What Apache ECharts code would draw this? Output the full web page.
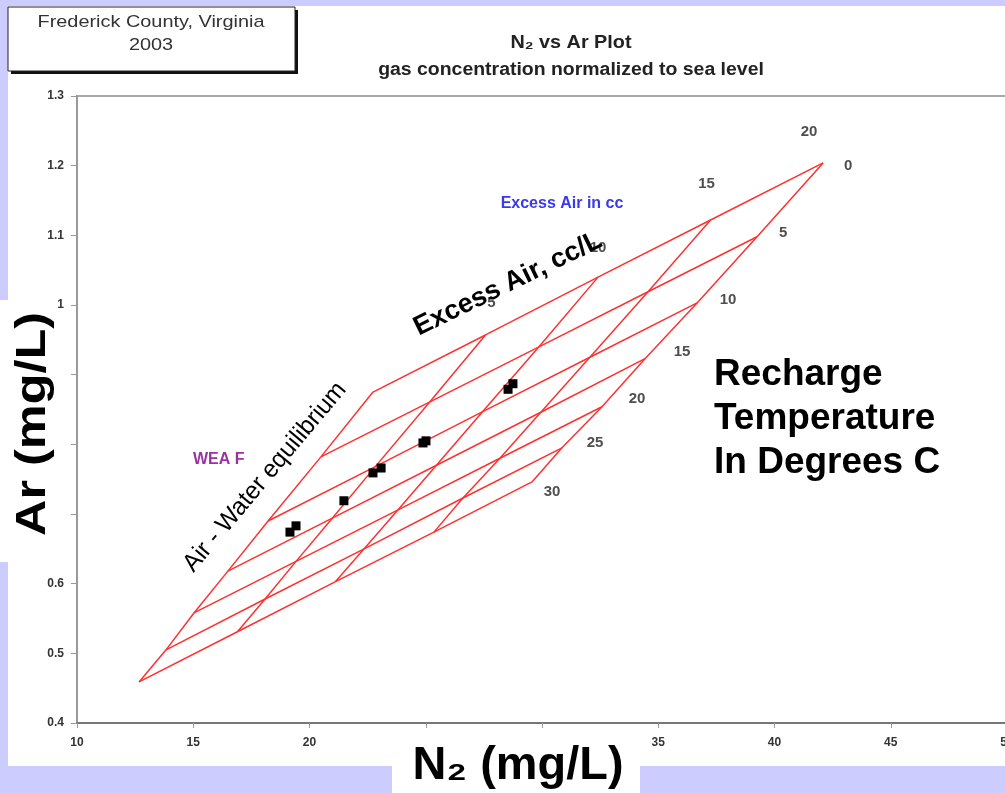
<!DOCTYPE html>
<html><head><meta charset="utf-8">
<script src="https://cdn.jsdelivr.net/npm/echarts@6/dist/echarts.min.js"></script>
<style>
html,body{margin:0;padding:0;background:#ccccff;width:1005px;height:793px;overflow:hidden}
#paper{position:absolute;left:8px;top:6px;width:997px;height:760px;background:#fff}
#c{position:absolute;left:0;top:0;width:1005px;height:793px}
</style>
</head><body><div id="paper"></div><div id="c"></div>
<script>
// Recharge temperature (deg C) of each grid line
const temperatures = [0, 5, 10, 15, 20, 25, 30];
// Excess air (cc/L) of each grid line
const excessAir = [0, 5, 10, 15, 20];
// Grid nodes: rows = excess air level, columns = temperature
const n2Grid = [
  [22.73, 20.49, 18.22, 16.49, 15.03, 13.83, 12.67],
  [27.57, 25.18, 22.83, 20.98, 19.42, 18.09, 16.90],
  [32.41, 29.87, 27.45, 25.46, 23.81, 22.35, 21.12],
  [37.25, 34.56, 32.06, 29.95, 28.19, 26.60, 25.35],
  [42.09, 39.25, 36.67, 34.43, 32.58, 30.86, 29.57]
];
const arGrid = [
  [0.875, 0.782, 0.690, 0.618, 0.558, 0.505, 0.459],
  [0.957, 0.861, 0.768, 0.694, 0.632, 0.578, 0.531],
  [1.040, 0.940, 0.847, 0.770, 0.706, 0.650, 0.603],
  [1.122, 1.019, 0.925, 0.846, 0.780, 0.723, 0.674],
  [1.204, 1.098, 1.003, 0.923, 0.854, 0.795, 0.746]
];
// Well samples
const sampleN2 = [19.16, 19.42, 21.48, 22.73, 23.08, 24.88, 25.01, 28.54, 28.75];
const sampleAr = [0.674, 0.683, 0.719, 0.759, 0.766, 0.802, 0.805, 0.879, 0.887];
// Axis ranges
const xMin = 10, xMax = 50, xStep = 5;
const yMin = 0.4, yMax = 1.3, yStep = 0.1;

// ---- layout (label nudges, not data) ----
const tempLabelOffsets = [[25,3],[26,-4],[31,-3],[37,-7],[35,-8],[33,-5],[20,10]];
const eaLabelOffsets = [null,[6,-32],[0,-29],[-4,-36],[-14,-31]];

const FONT = "'Liberation Sans', Arial, 'DejaVu Sans', sans-serif";
const red = '#ff3030';
const series = [];
// temperature lines
temperatures.forEach((t, j) => {
  series.push({type:'line', silent:true, symbol:'none', z:2,
    lineStyle:{color:red, width:1.5},
    data: excessAir.map((e, i) => [n2Grid[i][j], arGrid[i][j]])});
});
// excess-air lines
excessAir.forEach((e, i) => {
  series.push({type:'line', silent:true, symbol:'none', z:2,
    lineStyle:{color:red, width:1.5},
    data: temperatures.map((t, j) => [n2Grid[i][j], arGrid[i][j]])});
});
// temperature labels at right edge
const last = excessAir.length - 1;
series.push({type:'scatter', silent:true, symbolSize:0, z:4,
  label:{show:true, position:'inside', color:'#222', fontFamily:FONT, fontWeight:'bold', fontSize:15,
    formatter: p => p.data.name},
  data: temperatures.map((t, j) => ({name:String(t), value:[n2Grid[last][j], arGrid[last][j]],
    label:{offset:tempLabelOffsets[j]}}))});
// excess air labels at top edge
series.push({type:'scatter', silent:true, symbolSize:0, z:4,
  label:{show:true, position:'inside', color:'#222', fontFamily:FONT, fontWeight:'bold', fontSize:15,
    formatter: p => p.data.name},
  data: excessAir.map((e, i) => ({name:String(e), value:[n2Grid[i][0], arGrid[i][0]],
    label:{offset:eaLabelOffsets[i] || [0,-30]}})).filter((d, i) => i > 0)});
// samples
series.push({type:'scatter', z:5, symbol:'rect', symbolSize:9,
  itemStyle:{color:'#000', opacity:1},
  data: sampleN2.map((x, k) => [x, sampleAr[k]])});

const chart = echarts.init(document.getElementById('c'), null, {renderer:'canvas'});
chart.setOption({
  backgroundColor:'transparent',
  animation:false,
  grid:{left:77, top:96, width:930, height:627, containLabel:false, outerBoundsMode:'none',
    show:true, borderColor:'#a8a8a8', borderWidth:2, backgroundColor:'transparent'},
  xAxis:{type:'value', min:xMin, max:xMax, interval:xStep,
    axisLine:{show:true, onZero:false, lineStyle:{color:'#777', width:2}},
    axisTick:{show:true, length:5, lineStyle:{color:'#999'}},
    splitLine:{show:false},
    axisLabel:{margin:14, color:'#333', fontFamily:FONT, fontWeight:'bold', fontSize:12}},
  yAxis:{type:'value', min:yMin, max:yMax, interval:yStep,
    axisLine:{show:true, onZero:false, lineStyle:{color:'#999', width:2}},
    axisTick:{show:true, length:6, lineStyle:{color:'#999'}},
    splitLine:{show:false},
    axisLabel:{margin:13, color:'#333', fontFamily:FONT, fontWeight:'bold', fontSize:12,
      formatter: v => String(Math.round(v*10)/10)}},
  series: series,
  graphic:[
    // location box with shadow
    {type:'rect', z:50, shape:{x:11, y:10, width:287, height:64}, style:{fill:'#111'}},
    {type:'rect', z:51, shape:{x:8, y:7, width:287, height:64}, style:{fill:'#fff', stroke:'#222', lineWidth:1}},
    {type:'text', z:52, x:151, y:22, scaleX:1.17, style:{text:'Frederick County, Virginia', font:'17px '+FONT, fill:'#333', textAlign:'center', textVerticalAlign:'middle'}},
    {type:'text', z:52, x:151, y:45, scaleX:1.17, style:{text:'2003', font:'17px '+FONT, fill:'#333', textAlign:'center', textVerticalAlign:'middle'}},
    // titles
    {type:'text', z:52, x:571, y:43, scaleX:1.1, style:{text:'N\u2082 vs Ar Plot', font:'bold 18px '+FONT, fill:'#222', textAlign:'center', textVerticalAlign:'middle'}},
    {type:'text', z:52, x:571, y:70, scaleX:1.08, style:{text:'gas concentration normalized to sea level', font:'bold 18px '+FONT, fill:'#222', textAlign:'center', textVerticalAlign:'middle'}},
    // annotations
    {type:'text', z:52, x:562, y:204, style:{text:'Excess Air in cc', font:'bold 16px '+FONT, fill:'#3838f0', textAlign:'center', textVerticalAlign:'middle'}},
    {type:'text', z:52, x:193, y:460, style:{text:'WEA F', font:'bold 16px '+FONT, fill:'#9933a0', textAlign:'left', textVerticalAlign:'middle'}},
    {type:'text', z:60, x:265, y:477, rotation:50*Math.PI/180, scaleX:0.97, style:{text:'Air - Water equilibrium', font:'25px '+FONT, fill:'#000', textAlign:'center', textVerticalAlign:'middle'}},
    {type:'text', z:60, x:508, y:284, rotation:26*Math.PI/180, style:{text:'Excess Air, cc/L', font:'bold 27px '+FONT, fill:'#000', textAlign:'center', textVerticalAlign:'middle'}},
    {type:'text', z:60, x:714, y:353, style:{text:'Recharge\nTemperature\nIn Degrees C', font:'bold 37px '+FONT, lineHeight:44, fill:'#000', textAlign:'left', textVerticalAlign:'top'}},
    // axis title boxes
    {type:'rect', z:70, shape:{x:0, y:300, width:10, height:262}, style:{fill:'#fff'}},
    {type:'rect', z:70, shape:{x:0, y:318, width:68, height:244}, style:{fill:'#fff'}},
    {type:'text', z:71, x:33, y:424, rotation:Math.PI/2, scaleX:1.2, style:{text:'Ar (mg/L)', font:'bold 42px '+FONT, fill:'#000', textAlign:'center', textVerticalAlign:'middle'}},
    {type:'rect', z:70, shape:{x:392, y:735, width:248, height:58}, style:{fill:'#fff'}},
    {type:'text', z:71, x:518, y:766, scaleX:1.02, style:{text:'N\u2082 (mg/L)', font:'bold 46px '+FONT, fill:'#000', textAlign:'center', textVerticalAlign:'middle'}}
  ]
});
</script>
</body></html>
